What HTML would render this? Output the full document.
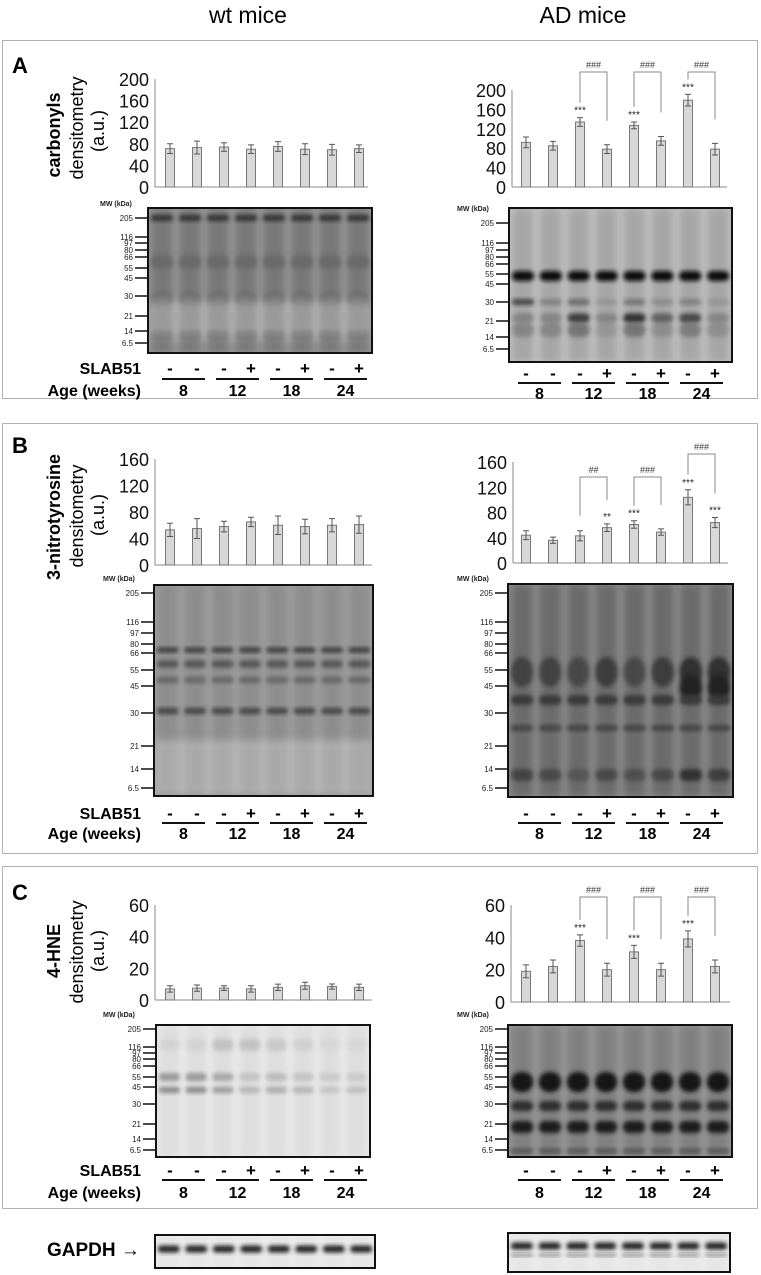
<!DOCTYPE html>
<html><head><meta charset="utf-8"><style>
html,body{margin:0;padding:0;background:#fff;}
svg{display:block;font-family:"Liberation Sans",Arial,sans-serif;}
</style></head><body>
<svg id="fig" width="761" height="1275" viewBox="0 0 761 1275" xmlns="http://www.w3.org/2000/svg">
<defs>
<filter id="blur2" x="-20%" y="-50%" width="140%" height="200%"><feGaussianBlur stdDeviation="2.2"/></filter>
<filter id="blur4" x="-20%" y="-50%" width="140%" height="200%"><feGaussianBlur stdDeviation="4"/></filter>
</defs>
<rect x="0" y="0" width="761" height="1275" fill="#fff"/>
<text x="248" y="23" font-size="23" text-anchor="middle">wt mice</text>
<text x="583" y="23" font-size="23" text-anchor="middle">AD mice</text>
<rect x="2.5" y="40.5" width="755" height="358" fill="none" stroke="#b0b0b0"/>
<rect x="2.5" y="423.5" width="755" height="430" fill="none" stroke="#b0b0b0"/>
<rect x="2.5" y="866.5" width="755" height="342" fill="none" stroke="#b0b0b0"/>
<text x="12" y="73" font-size="22" font-weight="bold">A</text>
<text x="12" y="453" font-size="22" font-weight="bold">B</text>
<text x="12" y="900" font-size="22" font-weight="bold">C</text>
</svg>
<script>
// ---- data ----
const groups = ["8","12","18","24"];
const slab = ["-","-","-","+","-","+","-","+"];
const aWtVals = [71,73,74,70,75,70,69,71];
const aWtErr  = [9,12,8,8,9,10,10,7];
const aAdVals = [92,85,134,78,127,95,179,78];
const aAdErr  = [11,9,9,9,7,9,12,12];
const aAdStars = ["","","***","","***","","***",""];
const bWtVals = [53,55,58,65,60,58,60,61];
const bWtErr  = [10,15,8,7,14,11,10,13];
const bAdVals = [44,36,43,56,61,49,104,64];
const bAdErr  = [7,5,8,6,6,5,12,8];
const bAdStars = ["","","","**","***","","***","***"];
const cWtVals = [7,7.5,7.5,7,8,9,8.5,8];
const cWtErr  = [2,2,1.5,2,2,2.2,1.6,2];
const cAdVals = [19,22,38,20,31,20,39,22];
const cAdErr  = [4,4,3.5,4,4,4,5,4];
const cAdStars = ["","","***","","***","","***",""];
const ticksAB200 = [0,40,80,120,160,200];
const ticks160 = [0,40,80,120,160];
const ticks60 = [0,20,40,60];
const aBrackets = [["###",2,3],["###",4,5],["###",6,7]];
const bBrackets = [["##",2,3],["###",4,5],["###",6,7]];
const cBrackets = [["###",2,3],["###",4,5],["###",6,7]];
const mwLabels = ["205","116","97","80","66","55","45","30","21","14","6.5"];

const NS="http://www.w3.org/2000/svg";
const svg=document.getElementById('fig');
function el(tag,attrs,parent,text){const e=document.createElementNS(NS,tag);for(const k in attrs)e.setAttribute(k,attrs[k]);if(text!==undefined)e.textContent=text;(parent||svg).appendChild(e);return e;}

function chart(cfg){
  const g=el('g',{});
  
  
  const max=cfg.ticks[cfg.ticks.length-1];
  const y=v=>cfg.y0-v/max*(cfg.y0-cfg.ytop);
  const x=i=>cfg.bx0+27*i;
  const ax=el('line',{x1:cfg.ax,y1:cfg.ytop,x2:cfg.ax,y2:cfg.y0,stroke:'#8a8a8a','stroke-width':1},g);
  
  
  const bl=el('line',{x1:cfg.ax,y1:cfg.y0,x2:cfg.axEnd,y2:cfg.y0,stroke:'#8a8a8a','stroke-width':1},g);
  
  
  cfg.ticks.forEach(t=>{
    const tl=el('text',{x:cfg.ax-6,y:y(t)+7,'font-size':18,'text-anchor':'end',fill:'#111'},g,String(t));
    
    
  });
  cfg.vals.forEach((v,i)=>{
    const b=el('rect',{x:x(i)-4.5,y:y(v),width:9,height:cfg.y0-y(v),fill:'#d8d8d8',stroke:'#777','stroke-width':1},g);
    
    
    const e=cfg.err[i], yt=y(v+e), yb=y(v-e);
    const eb=el('path',{d:`M${x(i)},${yt}V${yb}M${x(i)-3},${yt}H${x(i)+3}M${x(i)-3},${yb}H${x(i)+3}`,stroke:'#555','stroke-width':1,fill:'none'},g);
    
    
    if(cfg.stars&&cfg.stars[i]){
      const s=el('text',{x:x(i),y:yt-4,'font-size':10,'text-anchor':'middle',fill:'#222'},g,cfg.stars[i]);
      
      
    }
  });
  if(cfg.brackets){cfg.brackets.forEach((br,k)=>{
    const [lab,i,j]=br; const top=cfg.brTop[k];
    const l=y(cfg.vals[i]+cfg.err[i])-15, r=y(cfg.vals[j]+cfg.err[j])-24;
    const p=el('path',{d:`M${x(i)},${l}V${top}H${x(j)}V${r}`,stroke:'#888','stroke-width':1,fill:'none'},g);
    
    
    const t=el('text',{x:(x(i)+x(j))/2,y:top-4,'font-size':9,'text-anchor':'middle',fill:'#333'},g,lab);
    
    
  });}
}

function blot(cfg){
  const g=el('g',{});
  
  
  const cp='cp'+cfg.name;
  const c=el('clipPath',{id:cp},g); el('rect',{x:cfg.x,y:cfg.y,width:cfg.w,height:cfg.h},c);
  const inner=el('g',{'clip-path':`url(#${cp})`},g);
  el('rect',{x:cfg.x,y:cfg.y,width:cfg.w,height:cfg.h,fill:cfg.bg},inner);
  const lw=cfg.w/8;
  for(let i=0;i<8;i++){
    const lx=cfg.x+lw*(i+0.5);
    const ln=el('rect',{x:lx-lw*0.38,y:cfg.y,width:lw*0.76,height:cfg.h,fill:cfg.lane,opacity:cfg.laneOp,filter:'url(#blur4)'},inner);
    
    
    (cfg.bands||[]).forEach(b=>{
      const [by,col,bh,mult]=b; const m=mult?mult[i]:1; if(!m)return;
      const r=el('rect',{x:lx-lw*0.4,y:by-bh/2,width:lw*0.8,height:bh,rx:bh/2,fill:col,opacity:Math.min(1,m),filter:'url(#blur2)'},inner);
      
      
    });
  }
  if(cfg.bottomLight){el('rect',{x:cfg.x,y:cfg.bottomLight[0],width:cfg.w,height:cfg.bottomLight[1],fill:'#fff',opacity:0.25,filter:'url(#blur4)'},inner);}
  el('rect',{x:cfg.x,y:cfg.y,width:cfg.w,height:cfg.h,fill:'none',stroke:'#111','stroke-width':2},g);
  if(cfg.mw){
    const t=el('text',{x:cfg.mwTitleX,y:cfg.mw[0]-12,'font-size':7,'font-weight':'bold',fill:'#222'},g,'MW (kDa)');
    
    
    cfg.mw.forEach((my,k)=>{
      el('line',{x1:cfg.x-13,y1:my,x2:cfg.x-1,y2:my,stroke:'#111','stroke-width':1.5},g);
      const l=el('text',{x:cfg.x-15,y:my+3,'font-size':8,'text-anchor':'end',fill:'#222'},g,mwLabels[k]);
      
      
    });
  }
}

function labels(cfg){
  const g=el('g',{});
  
  
  const x=i=>cfg.bx0+27*i;
  if(cfg.rowTitles){
    const a=el('text',{x:141,y:cfg.sy+6,'font-size':16,'font-weight':'bold','text-anchor':'end'},g,'SLAB51');
    
    
    const b=el('text',{x:141,y:cfg.ay+6,'font-size':16,'font-weight':'bold','text-anchor':'end'},g,'Age (weeks)');
    
    
  }
  slab.forEach((s,i)=>{
    const t=el('text',{x:x(i),y:cfg.sy+6,'font-size':17,'font-weight':'bold','text-anchor':'middle'},g,s);
    
    
  });
  groups.forEach((a,k)=>{
    el('line',{x1:x(2*k)-8,y1:cfg.ly,x2:x(2*k+1)+8,y2:cfg.ly,stroke:'#111','stroke-width':2},g);
    const t=el('text',{x:(x(2*k)+x(2*k+1))/2,y:cfg.ay+6,'font-size':16,'font-weight':'bold','text-anchor':'middle'},g,a);
    
    
  });
}

function ylabel(name,title,cx,cy){
  const g=el('g',{});
  
  
  el('text',{x:0,y:0,'font-size':18,'font-weight':'bold','text-anchor':'middle',transform:`translate(60,${cy[0]}) rotate(-90)`},g,title);
  el('text',{x:0,y:0,'font-size':18,'text-anchor':'middle',transform:`translate(83,${cy[1]}) rotate(-90)`},g,'densitometry');
  el('text',{x:0,y:0,'font-size':18,'text-anchor':'middle',transform:`translate(104,${cy[2]}) rotate(-90)`},g,'(a.u.)');
}

// Panel A
ylabel('y-axis-title-carbonyls','carbonyls',0,[135,128,131]);
chart({name:'chart-a-wt',ax:155,axEnd:368,ytop:79,y0:187,ticks:ticksAB200,bx0:170,vals:aWtVals,err:aWtErr});
chart({name:'chart-a-ad',ax:512,axEnd:727,ytop:90,y0:187,ticks:ticksAB200,bx0:526,vals:aAdVals,err:aAdErr,stars:aAdStars,brackets:aBrackets,brTop:[72,72,72]});
blot({name:'blot-a-wt',x:148,y:208,w:224,h:145,bg:'#979797',lane:'#5e5e5e',laneOp:0.55,mwTitleX:100,
  mw:[218,237,243,250,257,268,278,296,316,331,343],
  bands:[[218,'#333',6],[262,'#6a6a6a',14],[300,'#6e6e6e',16],[335,'#5e5e5e',10]],bottomLight:[300,40]});
blot({name:'blot-a-ad',x:509,y:208,w:223,h:154,bg:'#c2c2c2',lane:'#8a8a8a',laneOp:0.5,mwTitleX:457,
  mw:[223,243,250,257,264,274,284,302,321,337,349],
  bands:[[276,'#0a0a0a',10],[318,'#333',9,[0.3,0.3,0.9,0.3,1,0.6,0.8,0.3]],[302,'#444',6,[1,0.4,0.6,0.2,0.5,0.3,0.4,0.2]],[330,'#555',14,[0.4,0.4,0.6,0.2,0.6,0.3,0.5,0.3]]]});
labels({name:'lane-labels-a-wt',bx0:170,sy:368,ly:379,ay:390,rowTitles:true});
labels({name:'lane-labels-a-ad',bx0:526,sy:373,ly:383,ay:393,rowTitles:false});

// Panel B
ylabel('y-axis-title-3-nitrotyrosine','3-nitrotyrosine',0,[517,516,515]);
chart({name:'chart-b-wt',ax:155,axEnd:372,ytop:459,y0:565,ticks:ticks160,bx0:170,vals:bWtVals,err:bWtErr});
chart({name:'chart-b-ad',ax:513,axEnd:728,ytop:462,y0:563,ticks:ticks160,bx0:526,vals:bAdVals,err:bAdErr,stars:bAdStars,brackets:bBrackets,brTop:[477,477,454]});
blot({name:'blot-b-wt',x:154,y:585,w:219,h:211,bg:'#a0a0a0',lane:'#7a7a7a',laneOp:0.5,mwTitleX:103,
  mw:[593,622,633,644,653,670,686,713,746,769,788],
  bands:[[650,'#3a3a3a',5],[664,'#555',7],[680,'#666',6],[711,'#444',6]],bottomLight:[740,55]});
blot({name:'blot-b-ad',x:508,y:584,w:225,h:213,bg:'#8d8d8d',lane:'#555',laneOp:0.6,mwTitleX:457,
  mw:[593,622,633,644,653,670,686,713,746,769,788],
  bands:[[672,'#333',30,[0.7,0.7,0.6,0.8,0.6,0.8,1,1]],[688,'#222',26,[0,0,0,0,0,0,1,1]],[700,'#3a3a3a',10],[728,'#444',6],[775,'#333',12,[0.7,0.6,0.4,0.6,0.5,0.6,1,0.8]]]});
labels({name:'lane-labels-b-wt',bx0:170,sy:813,ly:823,ay:833,rowTitles:true});
labels({name:'lane-labels-b-ad',bx0:526,sy:813,ly:823,ay:833,rowTitles:false});

// Panel C
ylabel('y-axis-title-4-hne','4-HNE',0,[951,952,951]);
chart({name:'chart-c-wt',ax:155,axEnd:372,ytop:905,y0:1000,ticks:ticks60,bx0:170,vals:cWtVals,err:cWtErr});
chart({name:'chart-c-ad',ax:511,axEnd:730,ytop:905,y0:1002,ticks:ticks60,bx0:526,vals:cAdVals,err:cAdErr,stars:cAdStars,brackets:cBrackets,brTop:[897,897,897]});
blot({name:'blot-c-wt',x:156,y:1025,w:214,h:132,bg:'#ebebeb',lane:'#d4d4d4',laneOp:0.6,mwTitleX:103,
  mw:[1029,1047,1053,1059,1066,1077,1087,1104,1124,1139,1150],
  bands:[[1077,'#999',8,[1,1,0.8,0.4,0.5,0.4,0.3,0.3]],[1090,'#888',6,[1,1,0.8,0.5,0.6,0.5,0.3,0.4]],[1045,'#bbb',12,[0.3,0.3,0.8,0.8,0.6,0.4,0.2,0.2]]]});
blot({name:'blot-c-ad',x:508,y:1025,w:224,h:132,bg:'#9a9a9a',lane:'#666',laneOp:0.5,mwTitleX:457,
  mw:[1029,1047,1053,1059,1066,1077,1087,1104,1124,1139,1150],
  bands:[[1082,'#151515',20],[1106,'#2e2e2e',10],[1127,'#1e1e1e',12],[1151,'#555',5]]});
labels({name:'lane-labels-c-wt',bx0:170,sy:1170,ly:1180,ay:1192,rowTitles:true});
labels({name:'lane-labels-c-ad',bx0:526,sy:1170,ly:1180,ay:1192,rowTitles:false});

// GAPDH
const gl=el('text',{x:47,y:1256,'font-size':19,'font-weight':'bold'},svg,'GAPDH →');


blot({name:'blot-gapdh-wt',x:155,y:1235,w:220,h:33,bg:'#ececec',lane:'#e0e0e0',laneOp:0.5,bands:[[1249,'#222',7]]});
blot({name:'blot-gapdh-ad',x:508,y:1233,w:222,h:39,bg:'#ececec',lane:'#e0e0e0',laneOp:0.5,bands:[[1246,'#222',7],[1255,'#888',3]]});
</script>
</body></html>
